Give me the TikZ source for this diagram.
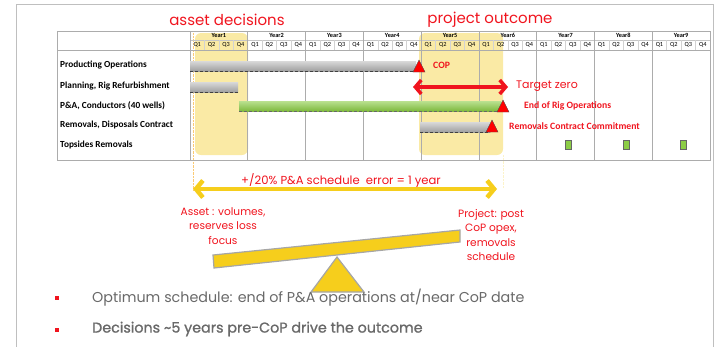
\documentclass[tikz,border=0pt]{standalone}
\usepackage{fontspec}
\setmainfont{Carlito}
\newfontfamily\geo{Poppins}
\newfontfamily\geothick[FakeBold=1.2]{Poppins}
\usepackage{xcolor}
\usetikzlibrary{arrows.meta,positioning}

\definecolor{hilite}{RGB}{250,234,165}
\definecolor{gold}{RGB}{246,206,28}
\definecolor{alarm}{RGB}{240,20,30}
\definecolor{bodygray}{RGB}{105,105,105}
\definecolor{leaf}{RGB}{140,205,70}

\tikzset{
  gridline/.style={draw=gray!65, line width=0.8pt},
  qline/.style={draw=gray!35, line width=0.4pt},
  rowlabel/.style={anchor=west, inner sep=0pt, font=\bfseries\fontsize{9.3}{10}\selectfont},
  yearlabel/.style={inner sep=0pt, font=\bfseries\fontsize{6.3}{7}\selectfont},
  qlabel/.style={inner sep=0pt, font=\fontsize{6.3}{7}\selectfont},
  redlabel/.style={anchor=west, inner sep=0pt, text=alarm, font=\bfseries\fontsize{9.7}{10}\selectfont},
  headline/.style={text=alarm, inner sep=0pt, font=\geo\fontsize{15}{16}\selectfont},
  note/.style={text=alarm, inner sep=0pt, align=center, font=\geo\fontsize{10.6}{14.5}\selectfont},
  bullet/.style={anchor=west, inner sep=0pt, text=bodygray, font=\geo\fontsize{14.3}{15}\selectfont},
}

% shaded schedule bars: from, to, row centre
\newcommand{\greybar}[3]{%
  \shade[top color=gray!30, bottom color=gray!75] (#1,#3-5) rectangle (#2,#3+5);
  \draw[densely dashed, black!75, line width=0.8pt] (#1,#3+5) -- (#2,#3+5);}
\newcommand{\greenbar}[3]{%
  \shade[top color=leaf!60!white, bottom color=leaf!90!black] (#1,#3-5) rectangle (#2,#3+5);
  \draw[densely dashed, black!60, line width=0.8pt] (#1,#3+5) -- (#2,#3+5);}
\newcommand{\milestone}[2]{%
  \filldraw[fill=red, draw=black!70, line width=0.4pt] (#1-6,#2+6) -- (#1,#2-6) -- (#1+6,#2+6) -- cycle;}

\begin{document}
\begin{tikzpicture}[x=1pt, y=-1pt]
  \useasboundingbox (0,0) rectangle (718,346);
  \def\xo{190}
  \def\yw{57.78}

  % frame
  \draw[gray!50, line width=1pt] (16,350) -- (16,4) -- (713,4) -- (713,350);

  % highlighted periods
  \fill[hilite, rounded corners=6pt] (195,33) rectangle (248,155);
  \fill[hilite, rounded corners=6pt] (419,33) rectangle (503,155);
  \draw[hilite!70!orange, densely dotted] (193,33) -- (193,190);
  \draw[hilite!60!white, densely dotted] (503,155) -- (503,188);

  % table grid
  \draw[gridline] (57,31) rectangle (710,160);
  \draw[gridline] (57,50) -- (710,50);
  \draw[gray!45] (\xo,40) -- (710,40);
  \foreach \yr in {1,...,9}{
    \pgfmathsetmacro\xa{\xo+(\yr-1)*\yw}
    \draw[gridline] (\xa,31) -- (\xa,160);
    \node[yearlabel] (year\yr) at (\xa+\yw/2,35.5) {Year\yr};
    \foreach \q in {1,...,4}
      \node[qlabel] (q\yr\q) at (\xa+\q*\yw/4-\yw/8,45.3) {Q\q};
    \foreach \q in {1,2,3}
      \draw[qline] (\xa+\q*\yw/4,40) -- (\xa+\q*\yw/4,50);
  }

  % activities
  \node[rowlabel] (prod) at (60,65) {Producting Operations};
  \node[rowlabel] (plan) at (60,86) {Planning, Rig Refurbishment};
  \node[rowlabel] (pa) at (60,106) {P\&A, Conductors (40 wells)};
  \node[rowlabel] (remo) at (60,125) {Removals, Disposals Contract};
  \node[rowlabel] (tops) at (60,145) {Topsides Removals};

  \greybar{190}{416}{66}
  \greybar{190}{238}{87}
  \greenbar{239}{501}{106}
  \greybar{420}{490}{127}
  \milestone{419}{66}
  \milestone{503}{106}
  \milestone{492}{126}
  \foreach \xs in {568,626,683}
    \filldraw[fill=leaf, draw=black!60, line width=0.4pt] (\xs-3,140) rectangle (\xs+3,149);

  \node[redlabel] (cop) at (433,65) {COP};
  \node[redlabel] (endrig) at (524,106) {End of Rig Operations};
  \node[redlabel] (commit) at (509,126) {Removals Contract Commitment};

  % target window
  \coordinate (tzl) at (413,87);
  \coordinate (tzr) at (508,87);
  \draw[alarm, line width=3.5pt, line cap=round,
    {Straight Barb[length=6pt,width=14pt,line width=3.5pt]}-{Straight Barb[length=6pt,width=14pt,line width=3.5pt]}]
    (tzl) -- (tzr);
  \node[headline, anchor=west, font=\geo\fontsize{11}{12}\selectfont] (target) at (516,86) {Target zero};

  \node[headline] (asset) at (227,20) {asset decisions};
  \node[headline] (outcome) at (490,20) {project outcome};

  % schedule error
  \coordinate (errl) at (193,189);
  \coordinate (errr) at (497,189);
  \draw[gold, line width=4.5pt,
    {Straight Barb[length=7pt,width=17pt,line width=4.5pt]}-{Straight Barb[length=7pt,width=17pt,line width=4.5pt]}]
    (errl) -- (errr);
  \node[note, font=\geo\fontsize{11.6}{12}\selectfont] (err) at (341,181) {+/20\% P\&A schedule\ \ error = 1 year};
  \node[note] (assetnote) at (223,226) {Asset : volumes,\\reserves loss\\focus};
  \node[note] (projnote) at (491,235) {Project: post\\CoP opex,\\removals\\schedule};

  % balance
  \filldraw[fill=gold, draw=gray!70, line width=1.2pt] (337,257) -- (311,292) -- (364,292) -- cycle;
  \filldraw[fill=gold, draw=gray!70, line width=1.2pt] (213,255) -- (460,230) -- (460,242) -- (214,268) -- cycle;

  % bullets
  \fill[alarm] (55,296) rectangle (59,300);
  \fill[alarm] (55,328) rectangle (59,332);
  \node[bullet] (opt) at (92,298) {Optimum schedule: end of P\&A operations at/near CoP date};
  \node[bullet, font=\geothick\fontsize{14.3}{15}\selectfont] (dec) at (92,329) {Decisions \textasciitilde5 years pre-CoP drive the outcome};
\end{tikzpicture}
\end{document}
